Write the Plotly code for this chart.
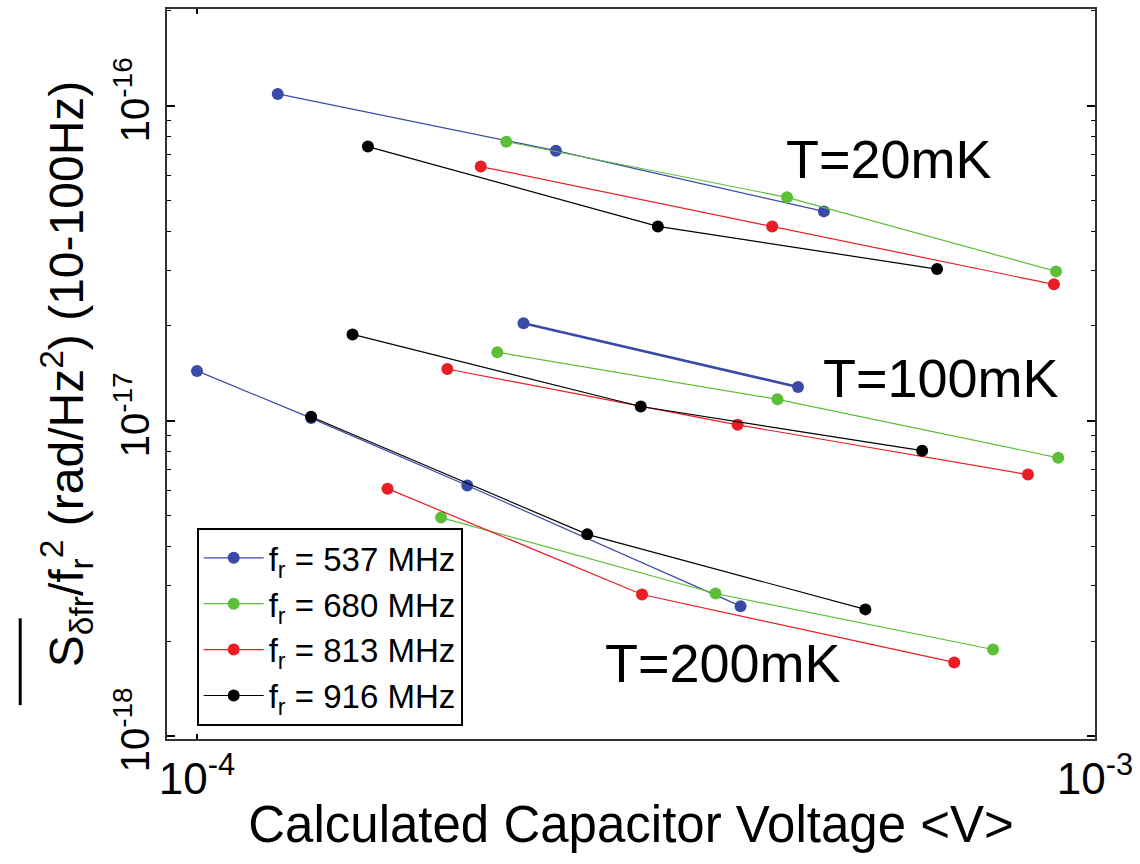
import plotly.graph_objects as go

# ---- data ----
freq_labels = ["f<sub>r</sub> = 537 MHz", "f<sub>r</sub> = 680 MHz",
               "f<sub>r</sub> = 813 MHz", "f<sub>r</sub> = 916 MHz"]
colors = ["#3A4AA8", "#5CBF38", "#EC1C24", "#000000"]
temps = ["T=20mK", "T=100mK", "T=200mK"]

# capacitor voltage (V) and noise S/f^2 (1/Hz) per resonator and temperature
v537_20 = [1.23e-4, 2.51e-4, 4.99e-4]
s537_20 = [1.09e-16, 7.20e-17, 4.62e-17]
v537_100 = [2.31e-4, 4.67e-4]
s537_100 = [2.04e-17, 1.28e-17]
v537_200 = [1.00e-4, 1.34e-4, 2.00e-4, 4.03e-4]
s537_200 = [1.44e-17, 1.02e-17, 6.23e-18, 2.58e-18]

v680_20 = [2.21e-4, 4.54e-4, 9.05e-4]
s680_20 = [7.69e-17, 5.12e-17, 2.98e-17]
v680_100 = [2.16e-4, 4.43e-4, 9.10e-4]
s680_100 = [1.65e-17, 1.17e-17, 7.63e-18]
v680_200 = [1.87e-4, 3.78e-4, 7.70e-4]
s680_200 = [4.93e-18, 2.83e-18, 1.88e-18]

v813_20 = [2.07e-4, 4.37e-4, 9.00e-4]
s813_20 = [6.41e-17, 4.14e-17, 2.71e-17]
v813_100 = [1.90e-4, 4.00e-4, 8.42e-4]
s813_100 = [1.46e-17, 9.71e-18, 6.75e-18]
v813_200 = [1.63e-4, 3.13e-4, 6.97e-4]
s813_200 = [6.09e-18, 2.81e-18, 1.71e-18]

v916_20 = [1.55e-4, 3.26e-4, 6.67e-4]
s916_20 = [7.42e-17, 4.14e-17, 3.03e-17]
v916_100 = [1.49e-4, 3.12e-4, 6.42e-4]
s916_100 = [1.88e-17, 1.11e-17, 8.04e-18]
v916_200 = [1.34e-4, 2.72e-4, 5.55e-4]
s916_200 = [1.03e-17, 4.36e-18, 2.52e-18]

series = [
    [(v537_20, s537_20), (v537_100, s537_100), (v537_200, s537_200)],
    [(v680_20, s680_20), (v680_100, s680_100), (v680_200, s680_200)],
    [(v813_20, s813_20), (v813_100, s813_100), (v813_200, s813_200)],
    [(v916_20, s916_20), (v916_100, s916_100), (v916_200, s916_200)],
]

x_tickvals = [1e-4, 1e-3]
x_ticktext = ["10<sup>-4</sup>", "10<sup>-3</sup>"]
y_tickvals = [1e-18, 1e-17, 1e-16]
y_ticktext = ["10<sup>-18</sup>", "10<sup>-17</sup>", "10<sup>-16</sup>"]

FONT = "Liberation Sans, Arial, Helvetica, sans-serif"

fig = go.Figure()
for i, (lab, col) in enumerate(zip(freq_labels, colors)):
    for j, (xv, yv) in enumerate(series[i]):
        lw = 2.6 if (i == 0 and j == 1) else 1.2
        fig.add_trace(go.Scatter(
            x=xv, y=yv, mode="lines+markers", name=lab,
            legendgroup=lab, showlegend=(j == 0),
            line=dict(color=col, width=lw),
            marker=dict(color=col, size=12),
        ))

minor_y = [k * 10.0 ** e for e in (-18, -17, -16) for k in range(2, 10)]
minor_x2 = [k * 1e-4 for k in range(3, 10)]

fig.update_layout(
    width=1140, height=864,
    margin=dict(l=167, r=44, t=7, b=125),
    paper_bgcolor="white", plot_bgcolor="white",
    font=dict(family=FONT, color="black"),
    showlegend=True,
    legend=dict(
        x=0.032, y=0.018, xanchor="left", yanchor="bottom",
        bgcolor="white", bordercolor="black", borderwidth=2,
        font=dict(size=33, family=FONT),
        tracegroupgap=0, itemwidth=60,
    ),
    xaxis=dict(
        type="log", range=[-4.0334, -3],
        tickvals=x_tickvals, ticktext=x_ticktext,
        ticks="inside", ticklen=5, tickwidth=1.5, tickcolor="black",
        showline=True, linecolor="#333333", linewidth=2, mirror="ticks",
        showgrid=False, zeroline=False,
        tickfont=dict(size=44, family=FONT),
        title=dict(text="Calculated Capacitor Voltage &lt;V&gt;",
                   font=dict(size=51, family=FONT), standoff=5),
    ),
    xaxis2=dict(
        type="log", range=[-3.7223, -3], overlaying="x", anchor="y",
        side="bottom", tickvals=minor_x2, showticklabels=False,
        ticks="inside", ticklen=5, tickwidth=1.5, tickcolor="black",
        showline=True, linecolor="#333333", linewidth=2, mirror="ticks",
        showgrid=False, zeroline=False,
    ),
    yaxis=dict(
        type="log", range=[-18.01, -15.693],
        tickvals=y_tickvals, ticktext=y_ticktext, tickangle=-90,
        ticks="inside", ticklen=8, tickwidth=1.5, tickcolor="black",
        minor=dict(tickvals=minor_y, ticks="inside", ticklen=4,
                   tickwidth=1.2, tickcolor="black", showgrid=False),
        showline=True, linecolor="#333333", linewidth=2, mirror="ticks",
        showgrid=False, zeroline=False,
        tickfont=dict(size=40, family=FONT),
        title=dict(text="S<sub>δfr</sub>/f<sub>r</sub><sup>2</sup> (rad/Hz<sup>2</sup>) (10-100Hz)",
                   font=dict(size=48, family=FONT), standoff=8),
    ),
)

# overline over the S_dfr symbol in the y title
fig.add_shape(type="line", xref="paper", yref="paper",
              x0=-0.1582, x1=-0.1582, y0=0.0464, y1=0.1653,
              line=dict(color="black", width=3))

ann_pos = [(0.778, 0.794), (0.834, 0.4945), (0.5996, 0.104)]
for t, (ax, ay) in zip(temps, ann_pos):
    fig.add_annotation(text=t, x=ax, y=ay, xref="paper", yref="paper",
                       xanchor="center", yanchor="middle",
                       showarrow=False, font=dict(size=54, family=FONT))

fig.write_html("out.html")
